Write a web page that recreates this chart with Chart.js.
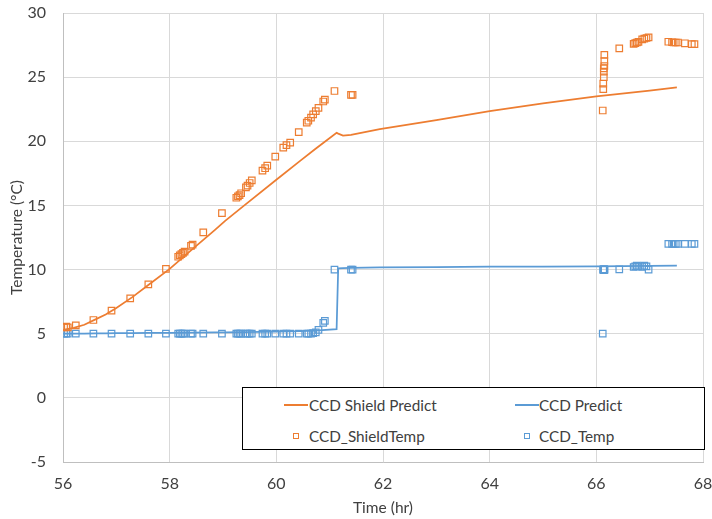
<!DOCTYPE html>
<html>
<head>
<meta charset="utf-8">
<title>CCD temperature</title>
<script src="https://cdn.jsdelivr.net/npm/chart.js@4/dist/chart.umd.min.js"></script>
<style>
  html, body { margin: 0; padding: 0; background: #fff; }
  #wrap { position: relative; width: 712px; height: 519px; }
  #legend {
    position: absolute; left: 242px; top: 387px; width: 461px; height: 61px;
    border: 1px solid #000; background: #fff;
    font-family: Lato, "Open Sans", sans-serif; font-size: 15.3px; color: #404040;
  }
  .lg-item { position: absolute; height: 20px; line-height: 20px; white-space: nowrap; }
</style>
</head>
<body>
<div id="wrap">
  <canvas id="chart" width="712" height="519"></canvas>
  <div id="legend"></div>
</div>
<script>
// Model prediction time base (hr) and predicted temperatures (°C)
const predictTime = [56.0, 56.2, 56.4, 56.6, 56.8, 57.0, 57.3, 57.6, 58.0, 58.4, 58.85, 59.04, 59.4,
  60.0, 60.44, 60.73, 61.13, 61.16, 61.25, 61.4, 61.94, 63.0, 64.0, 65.0, 66.0, 67.0, 67.51];
const shieldPredict = [5.3, 5.45, 5.7, 6.1, 6.5, 7.0, 7.85, 8.8, 10.05, 11.5, 13.1, 13.8, 15.0,
  17.0, 18.45, 19.4, 20.67, 20.6, 20.45, 20.5, 20.94, 21.65, 22.35, 22.95, 23.5, 23.95, 24.2];
const ccdPredict = [5.0, 5.0, 5.01, 5.02, 5.03, 5.04, 5.05, 5.06, 5.07, 5.09, 5.1, 5.11, 5.13,
  5.17, 5.2, 5.25, 5.35, 10.1, 10.12, 10.14, 10.18, 10.2, 10.22, 10.23, 10.25, 10.28, 10.3];

// Telemetry sample times (hr) and measured temperatures (°C)
const sampleTime = [56.02, 56.06, 56.09, 56.24, 56.57, 56.91, 57.26, 57.6, 57.93,
  58.16, 58.19, 58.22, 58.25, 58.28, 58.4, 58.43, 58.63, 58.98,
  59.25, 59.28, 59.31, 59.34, 59.43, 59.46, 59.5, 59.54, 59.74, 59.79, 59.83, 59.98,
  60.13, 60.19, 60.26, 60.42, 60.57, 60.6, 60.65, 60.69, 60.74, 60.79, 60.88, 60.91,
  61.09, 61.4, 61.43,
  66.12, 66.13, 66.13, 66.14, 66.14, 66.14, 66.15, 66.15, 66.15, 66.43,
  66.7, 66.73, 66.76, 66.79, 66.86, 66.9, 66.94, 66.98,
  67.35, 67.42, 67.45, 67.49, 67.53, 67.66, 67.79, 67.84];
const shieldTemp = [5.5, 5.55, 5.5, 5.65, 6.07, 6.8, 7.76, 8.85, 10.05,
  11.0, 11.1, 11.2, 11.3, 11.4, 11.85, 11.95, 12.9, 14.4,
  15.6, 15.7, 15.8, 15.95, 16.4, 16.55, 16.75, 16.95, 17.71, 17.9, 18.1, 18.8,
  19.5, 19.7, 19.9, 20.72, 21.45, 21.6, 21.85, 22.1, 22.35, 22.6, 23.1, 23.25,
  23.92, 23.62, 23.62,
  22.4, 24.07, 24.5, 24.99, 25.43, 25.69, 25.87, 26.26, 26.73, 27.25,
  27.6, 27.65, 27.7, 27.75, 27.95, 28.0, 28.05, 28.1,
  27.76, 27.72, 27.7, 27.7, 27.7, 27.64, 27.58, 27.58];
const ccdTemp = [5.0, 5.0, 5.0, 5.0, 5.0, 5.0, 5.0, 5.0, 5.0,
  5.0, 5.0, 5.0, 5.0, 5.0, 5.0, 5.0, 5.0, 5.0,
  5.0, 5.0, 5.0, 5.0, 5.0, 5.0, 5.0, 5.0, 5.0, 5.0, 5.0, 5.0,
  5.0, 5.0, 5.0, 5.0, 5.0, 5.0, 5.0, 5.05, 5.1, 5.3, 5.85, 6.0,
  10.0, 10.0, 10.0,
  5.0, 10.0, 10.0, 10.0, 10.0, 10.0, 10.0, 10.0, 10.0, 10.02,
  10.2, 10.25, 10.3, 10.25, 10.2, 10.3, 10.25, 10.0,
  12.0, 12.0, 12.0, 12.0, 12.0, 12.0, 12.0, 12.0];

// Axis ranges and tick steps
const xTicks = { min: 56, max: 68, step: 2 };
const yTicks = { min: -5, max: 30, step: 5 };

const ORANGE = '#ED7D31';
const BLUE = '#5B9BD5';
const TEXT = '#404040';
const FONT = 'Lato, "Open Sans", sans-serif';

const toPoints = (xs, ys) => xs.map((x, i) => ({ x, y: ys[i] }));

const datasets = [
  { label: 'CCD Shield Predict', data: toPoints(predictTime, shieldPredict), showLine: true,
    borderColor: ORANGE, backgroundColor: ORANGE, borderWidth: 1.75, pointRadius: 0, order: 2, kind: 'line' },
  { label: 'CCD Predict', data: toPoints(predictTime, ccdPredict), showLine: true,
    borderColor: BLUE, backgroundColor: BLUE, borderWidth: 1.75, pointRadius: 0, order: 2, kind: 'line' },
  { label: 'CCD_ShieldTemp', data: toPoints(sampleTime, shieldTemp), showLine: false,
    pointStyle: 'rect', pointRadius: 4.6, borderColor: ORANGE, backgroundColor: 'rgba(0,0,0,0)',
    pointBorderWidth: 1.2, order: 1, kind: 'marker' },
  { label: 'CCD_Temp', data: toPoints(sampleTime, ccdTemp), showLine: false,
    pointStyle: 'rect', pointRadius: 4.6, borderColor: BLUE, backgroundColor: 'rgba(0,0,0,0)',
    pointBorderWidth: 1.2, order: 1, kind: 'marker' }
];

const chart = new Chart(document.getElementById('chart'), {
  type: 'scatter',
  data: { datasets },
  options: {
    responsive: false,
    animation: false,
    devicePixelRatio: 1,
    layout: { padding: { top: 13, right: 9, left: 0, bottom: 0 } },
    plugins: { legend: { display: false }, tooltip: { enabled: false } },
    scales: {
      x: {
        type: 'linear', min: xTicks.min, max: xTicks.max,
        ticks: { stepSize: xTicks.step, padding: 12, color: TEXT, font: { family: FONT, size: 16 } },
        grid: { color: '#d9d9d9', lineWidth: 1, drawTicks: false },
        border: { color: '#bfbfbf', width: 1 },
        title: { display: true, text: 'Time (hr)', color: TEXT, font: { family: FONT, size: 15.5 },
                 padding: { top: 0, bottom: 2 } },
        // fixed axis band; edge labels may overhang the plot
        afterFit: (s) => { s.height = 57; s.paddingLeft = 0; s.paddingRight = 0; }
      },
      y: {
        type: 'linear', min: yTicks.min, max: yTicks.max,
        ticks: { stepSize: yTicks.step, padding: 17, color: TEXT, font: { family: FONT, size: 16 } },
        grid: { color: '#d9d9d9', lineWidth: 1, drawTicks: false },
        border: { color: '#bfbfbf', width: 1 },
        title: { display: true, text: 'Temperature (°C)', color: TEXT, font: { family: FONT, size: 15.5 },
                 padding: { top: 8, bottom: 0 } },
        afterFit: (s) => { s.width = 63; s.paddingTop = 0; s.paddingBottom = 0; }
      }
    }
  }
});

// Two-column legend box built from the dataset styles
const legend = document.getElementById('legend');
const sampleX = [53, 284];
const textX = [66, 296];
const rowY = [17, 48];
datasets.forEach((ds, i) => {
  const col = i % 2, row = Math.floor(i / 2);
  const sample = document.createElement('div');
  if (ds.kind === 'line') {
    sample.style.cssText = `position:absolute;left:${sampleX[col] - 12}px;top:${rowY[row] - 1}px;` +
      `width:24px;height:2px;background:${ds.borderColor};`;
  } else {
    sample.style.cssText = `position:absolute;left:${sampleX[col] - 3}px;top:${rowY[row] - 3}px;` +
      `width:4px;height:4px;border:1px solid ${ds.borderColor};`;
  }
  legend.appendChild(sample);
  const text = document.createElement('div');
  text.className = 'lg-item';
  text.style.left = textX[col] + 'px';
  text.style.top = (rowY[row] - 10) + 'px';
  text.textContent = ds.label;
  legend.appendChild(text);
});
</script>
</body>
</html>
